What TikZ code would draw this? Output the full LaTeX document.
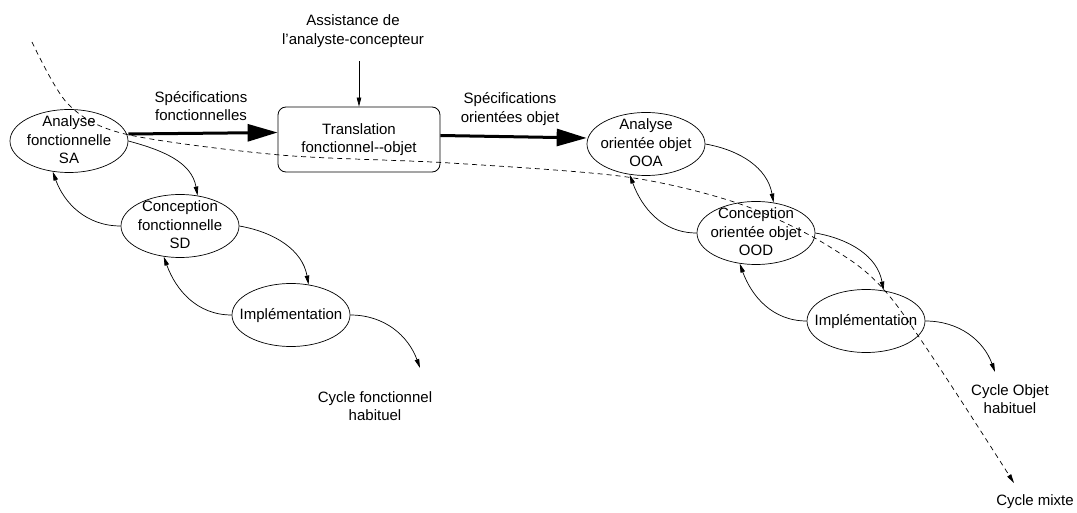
\documentclass[tikz,border=0pt]{standalone}
\usepackage{fontspec}
\setmainfont{Liberation Sans}
\usetikzlibrary{arrows.meta,shapes.geometric}
\newcommand\ellcontent[1]{\makebox[0pt]{\smash{\raisebox{-4pt}{\begin{tabular}{@{}c@{}}#1\end{tabular}}}}}
\begin{document}
\begin{tikzpicture}[x=1pt,y=1pt,
  every node/.style={font=\fontsize{15}{18.5}\selectfont},
  ell/.style={ellipse,draw,line width=0.7pt,inner sep=0pt,minimum width=118pt,minimum height=63pt},
  txt/.style={align=center,inner sep=0pt},
  tbox/.style={draw,line width=0.8pt,rounded corners=8pt,minimum width=162pt,minimum height=65pt,align=center,inner sep=0pt},
  flow/.style={line width=0.7pt,-{Triangle[length=9pt,width=4.5pt]}},
  big/.style={line width=3pt,-{Triangle[length=30pt,width=17pt]}},
  mixed/.style={line width=0.7pt,dash pattern=on 5pt off 4pt,-{Triangle[length=9pt,width=4.5pt]}}
]
\useasboundingbox (0,0) rectangle (1077,-513);

% ellipses
\node[ell] (sa) at (69,-141) {\ellcontent{Analyse\\fonctionnelle\\SA}};
\node[ell] (sd) at (180,-226) {\ellcontent{Conception\\fonctionnelle\\SD}};
\node[ell] (impla) at (291,-315) {\ellcontent{Implémentation}};
\node[ell] (ooa) at (646,-144) {\ellcontent{Analyse\\orientée objet\\OOA}};
\node[ell] (ood) at (756,-233) {\ellcontent{Conception\\orientée objet\\OOD}};
\node[ell] (implb) at (866,-321) {\ellcontent{Implémentation}};

% box and labels
\node[tbox] (box) at (359,-139.5) {Translation\\fonctionnel{-}{-}objet};
\node[txt] (assist) at (353,-31) {Assistance de\\l'analyste-concepteur};
\node[txt] (spec1) at (201,-106) {Spécifications\\fonctionnelles};
\node[txt] (spec2) at (510,-109) {Spécifications\\orientées objet};
\node[txt] (cyca) at (375,-406) {Cycle fonctionnel\\habituel};
\node[txt] (cycb) at (1010,-399) {Cycle Objet\\habituel};
\node[txt] (cycm) at (1035,-502) {Cycle mixte};

\coordinate (enda) at (420,-368);
\coordinate (endb) at (995,-372);

% main flow
\draw[big] ([yshift=7pt]sa.east) -- ([yshift=7pt]box.west);
\draw[big] ([yshift=4pt]box.east) -- ([yshift=6pt]ooa.west);
\draw[flow] ([yshift=-14pt]assist.south -| box.north) -- (box.north);

% functional cycle
\draw[flow] (sa.east) to[out=-15,in=100] (sd.60);
\draw[flow] (sd.west) to[out=180,in=-70] (sa.242);
\draw[flow] (sd.east) to[out=-10,in=100] (impla.60);
\draw[flow] (impla.west) to[out=180,in=-70] (sd.242);
\draw[flow] (impla.east) to[out=0,in=110] (enda);

% object cycle
\draw[flow] (ooa.east) to[out=-10,in=100] (ood.60);
\draw[flow] (ood.west) to[out=180,in=-70] (ooa.242);
\draw[flow] (ood.east) to[out=-10,in=100] (implb.60);
\draw[flow] (implb.west) to[out=180,in=-70] (ood.242);
\draw[flow] (implb.east) to[out=0,in=110] (endb);

% mixed cycle
\coordinate (m0) at (32,-42);
\coordinate (m1) at (68,-104);
\coordinate (m2) at (125,-134);
\coordinate (m3) at (280,-155);
\coordinate (m4) at (450,-163);
\coordinate (m5) at (627,-177);
\coordinate (m6) at (740,-204);
\coordinate (m7) at (830,-247);
\coordinate (m8) at (895,-303);
\coordinate (m9) at (1014,-483);
\draw[mixed] plot[smooth,tension=0.5] coordinates {(m0) (m1) (m2) (m3) (m4) (m5) (m6) (m7) (m8) (m9)};
\end{tikzpicture}
\end{document}
